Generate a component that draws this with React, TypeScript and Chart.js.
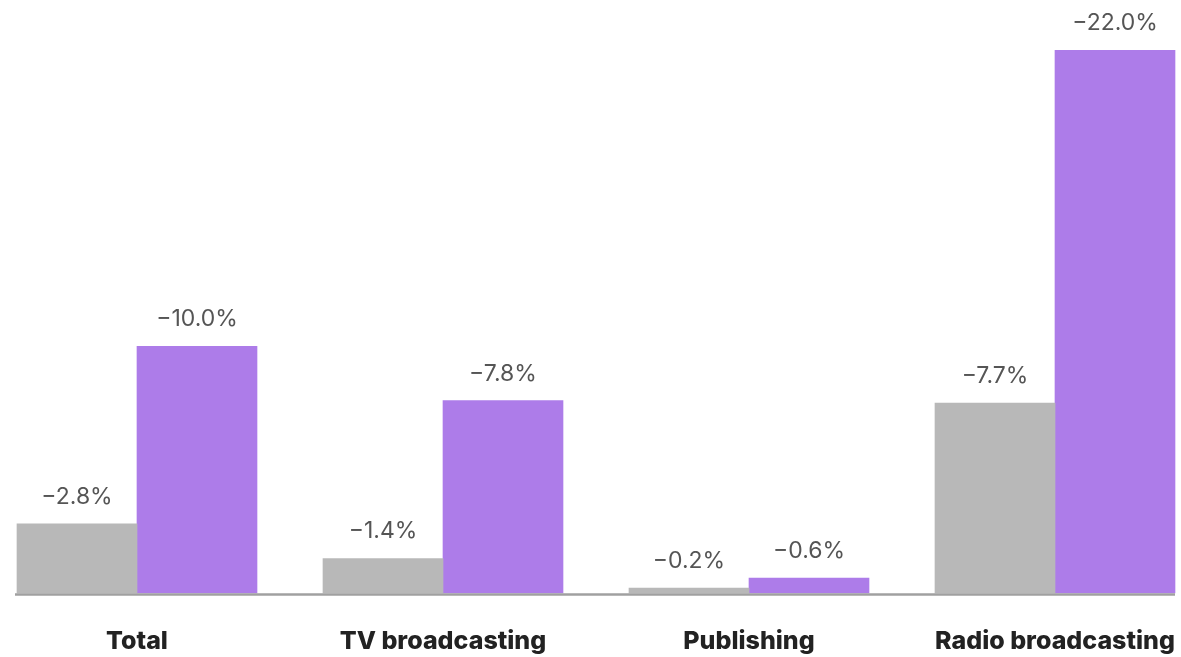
import React, { useEffect, useRef } from "react";
import { Chart, registerables } from "chart.js";

Chart.register(...registerables);

const categories = ["Total", "TV broadcasting", "Publishing", "Radio broadcasting"];
const seriesGray = [2.8, 1.4, 0.2, 7.7];
const seriesPurple = [10.0, 7.8, 0.6, 22.0];

const GRAY = "#b8b8b8";
const PURPLE = "#ad7ce9";

const valueLabels = {
  id: "valueLabels",
  afterDatasetsDraw(chart: any) {
    const ctx = chart.ctx;
    ctx.save();
    ctx.font = "400 23px Inter, 'Noto Sans', sans-serif";
    ctx.fillStyle = "#555555";
    ctx.textAlign = "center";
    ctx.textBaseline = "middle";
    chart.data.datasets.forEach((ds: any, di: number) => {
      const meta = chart.getDatasetMeta(di);
      meta.data.forEach((el: any, i: number) => {
        const v = ds.data[i] as number;
        ctx.fillText("\u2212" + v.toFixed(1) + "%", el.x, el.y - 27);
      });
    });
    ctx.restore();
  },
};

const baseline = {
  id: "baseline",
  afterDatasetsDraw(chart: any) {
    const ctx = chart.ctx;
    const m0 = chart.getDatasetMeta(0);
    const m1 = chart.getDatasetMeta(1);
    const first = m0.data[0];
    const last = m1.data[m1.data.length - 1];
    const y = chart.scales.y.getPixelForValue(0);
    ctx.save();
    ctx.strokeStyle = "#a0a0a0";
    ctx.lineWidth = 2.5;
    ctx.beginPath();
    ctx.moveTo(first.x - first.width / 2 - 2, y + 1.5);
    ctx.lineTo(last.x + last.width / 2, y + 1.5);
    ctx.stroke();
    ctx.restore();
  },
};

export default function App() {
  const ref = useRef<HTMLCanvasElement | null>(null);
  useEffect(() => {
    if (!ref.current) return;
    const chart = new Chart(ref.current, {
      type: "bar",
      data: {
        labels: categories,
        datasets: [
          { label: "Gray", data: seriesGray, backgroundColor: GRAY, barThickness: 120, clip: false as any },
          { label: "Purple", data: seriesPurple, backgroundColor: PURPLE, barThickness: 120, clip: false as any },
        ],
      },
      options: {
        animation: false,
        responsive: false,
        devicePixelRatio: 1,
        layout: { padding: { left: 137, right: 126, top: 1, bottom: 0 } },
        plugins: { legend: { display: false }, tooltip: { enabled: false } },
        scales: {
          x: {
            offset: false,
            grid: {
              display: true,
              drawOnChartArea: false,
              drawTicks: true,
              tickLength: 32,
              color: "rgba(0,0,0,0)",
            },
            border: { display: false },
            ticks: {
              padding: 1,
              color: "#222222",
              font: { family: "Inter, 'Noto Sans', sans-serif", size: 25, weight: "800" },
              maxRotation: 0,
              autoSkip: false,
            },
          },
          y: {
            display: false,
            min: 0,
            max: 24,
          },
        },
      },
      plugins: [valueLabels, baseline],
    });
    return () => chart.destroy();
  }, []);
  return (
    <div style={{ position: "fixed", left: 0, top: 0, width: 1181, height: 657, background: "#fff" }}>
      <canvas ref={ref} width={1181} height={657} style={{ display: "block", width: 1181, height: 657 }} />
    </div>
  );
}
